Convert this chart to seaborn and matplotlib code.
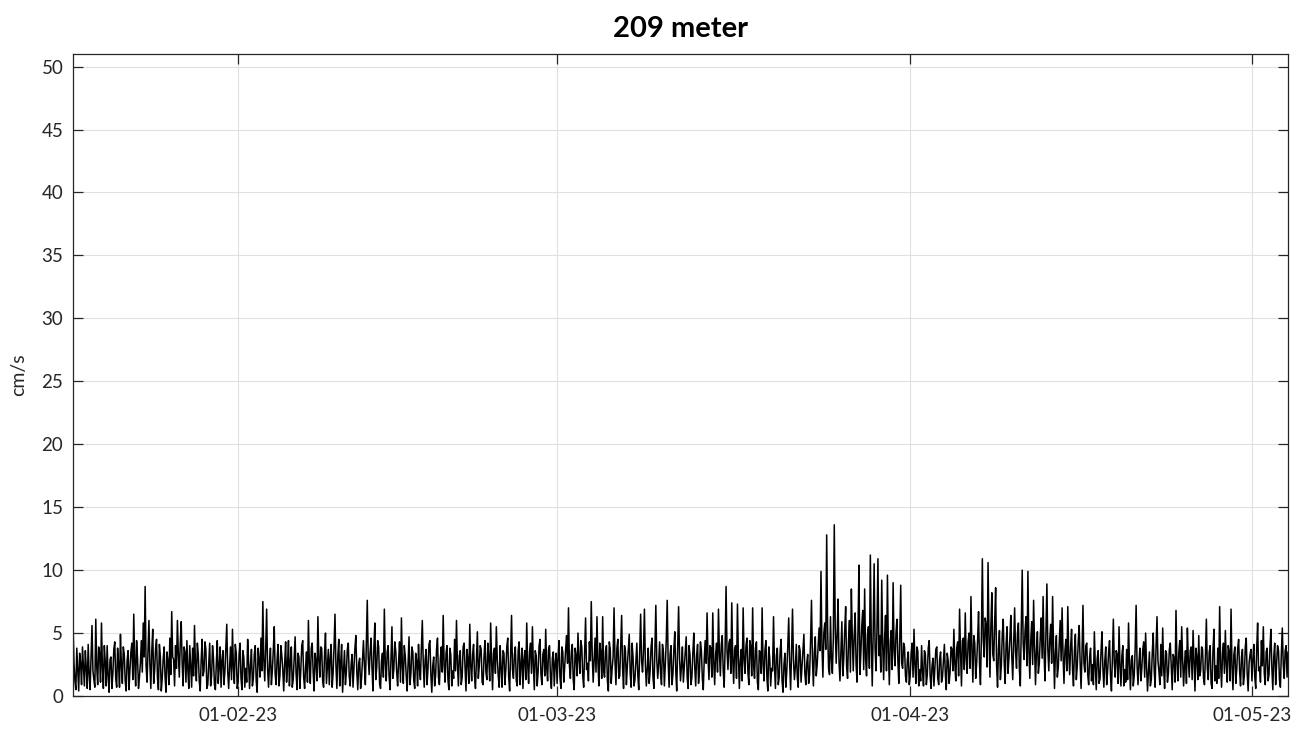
import numpy as np
import pandas as pd
import matplotlib
matplotlib.use("Agg")
import matplotlib.pyplot as plt
import matplotlib.dates as mdates
import seaborn as sns

# Current speed (cm/s) at 209 m, sampled every 2 hours from 17 Jan 2023 12:00.
# The *_a lists hold the readings on the 4-hour marks (12:00, 16:00, ...),
# the *_b lists the readings taken two hours after each of them.
start_time = "2023-01-17 12:00"
step = "2h"

speed_jan_a = [
    5.9, 1.2, 3.8, 0.4, 2.6, 3.9,
    0.8, 2.2, 4.1, 0.5, 5.6, 1.3,
    6.1, 0.9, 3.4, 5.8, 0.6, 2.7,
    4.0, 0.3, 3.1, 1.8, 4.3, 0.7,
    2.5, 4.9, 1.0, 3.3, 0.4, 3.6,
    2.1, 4.2, 6.5, 0.8, 3.0, 1.5,
    4.4, 5.8, 8.7, 1.1, 6.0, 0.6,
    5.3, 2.0, 4.5, 0.5, 3.2, 1.4,
    3.9, 0.3, 2.8, 4.6, 6.7, 2.9,
    4.0, 6.0, 1.5, 5.9, 0.8, 3.5,
    4.4, 0.6, 2.4, 3.8, 5.6, 1.2,
    3.3, 0.4, 4.5, 2.0, 3.7, 0.9,
    4.2, 1.6, 3.0, 0.5, 4.4, 2.3,
    0.7, 3.6, 1.9, 5.7, 0.6, 3.9,
    5.3, 1.0, 3.4,
]
speed_jan_b = [
    2.7, 0.5, 2.1, 3.4, 0.9, 2.4,
    3.6, 0.6, 1.8, 3.2, 2.0, 0.7,
    2.3, 3.9, 1.1, 2.2, 4.0, 0.8,
    1.6, 2.9, 0.6, 3.7, 1.4, 3.8,
    0.7, 2.4, 3.9, 1.2, 2.8, 0.5,
    3.5, 1.3, 2.7, 4.4, 0.6, 2.6,
    1.9, 3.1, 2.4, 3.7, 2.5, 3.6,
    1.0, 3.8, 1.4, 4.1, 0.4, 2.9,
    1.5, 3.5, 0.9, 1.7, 3.1, 0.8,
    2.2, 3.3, 4.2, 2.6, 3.9, 1.1,
    2.1, 4.0, 0.7, 1.6, 2.4, 4.2,
    1.2, 2.8, 1.6, 4.3, 0.6, 2.5,
    0.8, 4.0, 0.9, 2.6, 1.0, 3.9,
    2.8, 0.9, 3.8, 1.9, 2.4, 1.3,
    2.2, 4.1, 0.6,
]

speed_feb_a = [
    1.1, 4.2, 0.5, 3.0, 2.2, 4.5,
    0.6, 3.7, 1.4, 4.0, 0.3, 2.9,
    4.6, 7.5, 1.2, 6.9, 0.7, 3.8,
    2.0, 5.5, 0.9, 4.1, 1.6, 3.2,
    0.4, 4.3, 2.5, 0.8, 3.9, 1.3,
    4.7, 0.5, 3.1, 2.1, 4.4, 0.6,
    3.5, 6.0, 1.0, 4.2, 0.4, 2.7,
    6.3, 1.5, 3.8, 0.7, 5.0, 2.4,
    0.9, 4.1, 1.8, 6.5, 0.6, 4.5,
    2.6, 0.3, 3.6, 1.9, 4.2, 0.8,
    3.3, 2.2, 4.8, 0.5, 3.0, 1.4,
    4.4, 0.9, 7.6, 1.7, 4.6, 0.4,
    5.8, 2.3, 3.9, 0.6, 3.4, 6.9,
    1.2, 4.0, 0.5, 5.5, 2.1, 3.6,
    0.8, 4.3, 6.2, 1.0, 3.2, 0.4,
    4.7, 1.8, 3.5, 0.6, 2.8, 4.1,
    1.3, 6.0, 0.7, 3.7, 2.2, 4.4,
    0.3, 3.1, 1.6, 4.6, 0.9, 3.9,
    6.4, 1.1, 4.0, 0.5, 3.3, 2.0,
    4.5, 6.0, 0.8, 3.6, 1.5, 4.2,
    0.4, 2.9, 5.7, 1.2, 4.1, 0.6,
    5.1, 2.4, 3.7, 0.9, 4.4, 1.3,
    3.0, 5.8, 0.5, 3.8, 5.5, 1.6,
    4.0, 0.7, 3.4, 2.1, 4.6, 0.4,
    6.4, 1.4, 3.9, 0.8, 4.3, 2.5,
    0.6, 3.6, 5.8, 1.0, 4.2, 5.5,
    0.5, 3.2, 1.9, 4.5, 0.9, 3.7,
    5.3, 1.2, 4.0, 0.6, 3.5, 2.6,
]
speed_feb_b = [
    3.3, 1.4, 3.6, 0.7, 1.1, 2.7,
    2.4, 0.8, 3.3, 1.2, 3.8, 1.5,
    2.0, 2.9, 3.7, 2.2, 2.6, 0.9,
    3.6, 1.7, 2.9, 0.8, 4.0, 2.1,
    2.6, 1.1, 4.4, 2.7, 0.7, 3.1,
    1.8, 3.4, 0.6, 4.0, 1.5, 2.3,
    1.1, 2.5, 3.8, 1.9, 3.4, 1.2,
    2.8, 3.9, 1.2, 3.3, 1.0, 3.7,
    3.0, 0.7, 3.9, 2.4, 3.2, 0.8,
    4.1, 2.0, 0.9, 3.7, 1.6, 2.5,
    0.7, 3.8, 1.9, 2.6, 0.6, 2.9,
    2.4, 4.0, 3.1, 3.5, 2.2, 3.9,
    1.3, 4.4, 1.0, 2.8, 1.5, 2.6,
    3.5, 1.6, 3.0, 1.4, 4.3, 1.9,
    2.7, 1.1, 2.3, 4.0, 1.7, 2.6,
    0.9, 3.9, 1.2, 3.4, 0.8, 2.2,
    3.8, 2.6, 2.9, 0.9, 4.1, 1.7,
    2.4, 0.8, 3.7, 1.5, 3.0, 1.9,
    2.5, 3.4, 1.3, 3.8, 0.8, 1.4,
    2.0, 2.6, 3.2, 0.9, 3.9, 2.3,
    3.7, 1.0, 2.4, 3.3, 1.6, 2.8,
    1.4, 4.0, 1.1, 3.1, 1.9, 4.2,
    1.2, 2.7, 3.4, 1.8, 2.9, 0.7,
    2.2, 3.6, 0.9, 3.9, 1.5, 3.2,
    2.1, 3.3, 1.2, 3.6, 0.9, 3.8,
    2.9, 1.3, 2.5, 3.5, 1.8, 2.4,
    3.6, 0.8, 4.0, 1.7, 3.3, 1.6,
    2.3, 3.7, 1.5, 3.0, 0.8, 3.4,
]

speed_mar_a = [
    1.0, 4.4, 0.6, 3.5, 2.3, 4.8,
    7.0, 1.4, 4.1, 0.5, 3.2, 5.0,
    1.8, 3.9, 0.7, 6.2, 2.6, 4.3,
    7.5, 1.1, 4.6, 6.3, 0.8, 3.4,
    6.3, 1.5, 4.0, 0.4, 3.7, 2.2,
    7.0, 0.9, 4.5, 1.6, 6.4, 0.6,
    3.6, 2.4, 4.9, 0.7, 3.1, 1.3,
    4.2, 0.5, 6.5, 1.9, 6.9, 0.8,
    3.8, 2.0, 4.6, 0.6, 7.2, 1.4,
    4.3, 0.9, 3.5, 2.5, 7.6, 0.7,
    4.0, 1.7, 5.1, 0.4, 7.1, 1.2,
    3.9, 2.3, 4.7, 0.6, 3.3, 1.5,
    5.0, 0.8, 4.1, 2.0, 3.6, 0.5,
    4.4, 6.6, 1.3, 3.8, 6.6, 0.9,
    4.2, 6.9, 1.6, 4.8, 0.7, 8.7,
    2.1, 4.5, 7.4, 1.0, 4.0, 7.3,
    0.6, 3.7, 7.0, 1.8, 4.6, 0.9,
    3.9, 7.0, 1.4, 4.3, 0.5, 3.5,
    7.0, 1.2, 4.4, 0.4, 3.0, 2.2,
    6.3, 0.6, 3.8, 1.5, 4.5, 0.3,
    3.4, 2.0, 6.2, 0.5, 6.9, 1.3,
    4.1, 0.7, 3.6, 2.4, 4.9, 0.9,
    3.3, 1.7, 7.6, 0.8, 4.7, 2.5,
    5.4, 9.9, 1.5, 5.8, 12.8, 2.2,
    6.3, 1.8, 13.6, 2.6, 7.7, 1.2,
    5.9, 3.0, 7.1, 1.4, 6.0, 8.5,
    2.0, 6.6, 1.1, 10.4, 3.4, 6.8,
    8.5, 1.6, 5.5, 11.2, 0.8, 10.5,
    2.0, 10.9, 4.8, 9.2, 1.3, 6.4,
    9.6, 0.9, 5.2, 9.0, 2.4, 6.1,
    1.0, 8.8, 2.2, 3.9, 1.1, 3.5,
]
speed_mar_b = [
    3.1, 1.5, 3.9, 1.1, 3.7, 2.6,
    2.4, 3.5, 1.3, 3.8, 1.6, 2.9,
    4.4, 1.6, 3.6, 2.1, 1.2, 2.8,
    3.3, 2.9, 1.9, 2.7, 4.2, 1.4,
    2.0, 3.6, 1.2, 4.3, 1.0, 3.1,
    2.7, 3.8, 1.4, 3.9, 2.2, 4.0,
    0.9, 3.7, 1.8, 4.2, 0.8, 2.7,
    1.7, 3.4, 2.8, 3.6, 2.5, 2.2,
    1.0, 3.9, 1.5, 3.5, 2.9, 2.6,
    1.8, 4.1, 0.8, 4.4, 2.7, 3.3,
    0.9, 3.7, 2.0, 3.9, 3.0, 2.4,
    1.1, 3.6, 1.5, 4.0, 0.9, 3.4,
    2.3, 3.2, 1.0, 4.3, 1.4, 2.9,
    2.6, 3.0, 4.0, 1.5, 2.8, 3.3,
    1.9, 3.4, 4.1, 2.0, 3.8, 3.6,
    4.2, 1.8, 3.0, 3.7, 1.4, 3.1,
    2.8, 1.2, 2.9, 4.0, 1.9, 4.4,
    1.6, 2.4, 3.8, 1.1, 3.6, 1.8,
    2.5, 3.7, 1.5, 3.9, 0.8, 2.0,
    2.4, 3.2, 0.9, 3.6, 1.2, 2.5,
    0.7, 3.9, 2.6, 3.4, 2.9, 2.3,
    1.5, 4.0, 1.1, 3.7, 1.8, 2.6,
    1.0, 4.3, 2.9, 3.5, 1.6, 3.9,
    3.6, 4.1, 5.0, 3.7, 5.2, 1.7,
    2.9, 4.6, 5.5, 4.8, 2.7, 3.5,
    1.6, 5.2, 2.3, 4.4, 1.9, 4.7,
    4.8, 2.5, 5.3, 1.7, 5.6, 2.1,
    3.0, 4.9, 2.2, 4.3, 5.1, 3.8,
    5.4, 3.2, 1.9, 4.1, 4.6, 2.0,
    3.5, 4.3, 2.1, 3.6, 5.0, 2.8,
    4.5, 2.6, 4.2, 1.6, 2.9, 0.9,
]

speed_apr_a = [
    1.6, 4.2, 5.3, 1.0, 3.6, 2.1,
    4.0, 0.8, 3.3, 1.7, 4.4, 0.6,
    3.0, 2.2, 3.9, 0.9, 3.5, 1.5,
    4.1, 0.5, 2.8, 1.9, 3.7, 5.3,
    1.2, 4.3, 6.9, 0.8, 4.6, 6.6,
    1.8, 5.0, 7.9, 1.1, 4.2, 2.6,
    6.7, 0.9, 10.9, 3.1, 5.6, 10.6,
    1.5, 8.2, 2.8, 8.6, 0.7, 5.2,
    2.4, 6.1, 1.0, 5.5, 3.0, 6.4,
    1.3, 7.0, 2.2, 5.8, 0.8, 10.0,
    2.9, 6.3, 9.9, 1.4, 5.9, 7.6,
    0.9, 5.1, 2.6, 6.2, 7.9, 1.2,
    8.9, 2.0, 5.7, 7.9, 0.6, 4.8,
    2.3, 6.0, 7.0, 1.0, 4.5, 7.1,
    1.7, 5.3, 0.8, 4.9, 2.4, 5.6,
    0.6, 7.2, 1.9, 4.2, 0.9, 3.8,
    2.5, 5.1, 0.5, 3.6, 1.4, 5.1,
    0.7, 3.9, 2.0, 4.4, 0.4, 6.1,
    1.5, 3.3, 5.5, 0.8, 4.0, 2.1,
    3.7, 5.8, 0.5, 3.2, 1.6, 7.2,
    0.9, 3.8, 2.2, 4.3, 5.0, 0.4,
    3.5, 1.3, 5.0, 0.7, 6.3, 2.0,
    4.1, 5.4, 0.6, 3.4, 1.8, 4.2,
    0.5, 3.0, 6.8, 1.2, 4.4, 5.5,
    0.8, 3.6, 5.4, 1.5, 3.9, 5.2,
    0.4, 3.1, 4.8, 2.0, 3.7, 0.9,
    6.1, 1.3, 4.0, 0.6, 5.3, 2.4,
    3.8, 7.1, 0.7, 4.2, 5.2, 1.1,
    3.5, 6.9, 0.5, 3.9, 2.1, 4.5,
    0.8, 3.7, 1.6, 4.6, 0.4, 3.3,
]
speed_apr_b = [
    3.4, 1.5, 2.4, 3.9, 0.8, 1.2,
    1.9, 3.6, 0.9, 3.8, 1.6, 2.4,
    0.8, 3.7, 1.4, 2.9, 1.1, 2.8,
    1.7, 3.4, 1.0, 3.9, 2.0, 2.6,
    3.8, 1.6, 3.5, 4.4, 2.1, 3.0,
    4.3, 2.2, 3.7, 4.8, 1.4, 4.5,
    2.6, 4.7, 4.4, 6.2, 2.3, 4.9,
    5.6, 3.3, 5.9, 2.5, 3.8, 1.3,
    4.9, 2.7, 4.1, 1.8, 4.6, 3.2,
    4.0, 3.5, 5.0, 2.1, 5.4, 4.2,
    5.2, 2.4, 3.8, 4.4, 2.5, 3.9,
    3.6, 1.8, 4.7, 3.0, 3.4, 5.1,
    3.7, 4.5, 2.6, 3.8, 3.5, 1.5,
    4.2, 2.8, 3.3, 3.6, 2.0, 3.4,
    3.9, 2.1, 3.6, 1.3, 4.3, 2.7,
    3.4, 2.6, 4.0, 1.7, 3.1, 1.2,
    0.9, 2.3, 3.0, 1.0, 3.5, 2.2,
    2.8, 0.9, 3.5, 1.6, 3.0, 2.6,
    3.6, 1.0, 2.4, 3.2, 0.8, 1.1,
    1.3, 2.5, 2.9, 0.8, 3.8, 2.4,
    2.7, 1.2, 3.7, 1.5, 2.3, 1.9,
    0.8, 3.4, 2.1, 3.9, 2.8, 0.9,
    1.6, 2.2, 3.6, 1.1, 3.7, 2.4,
    3.3, 1.1, 2.6, 3.5, 1.5, 2.9,
    2.5, 1.0, 2.8, 3.6, 1.3, 2.7,
    3.8, 1.3, 1.6, 3.9, 1.4, 3.2,
    2.2, 3.5, 1.0, 3.7, 1.2, 1.0,
    1.4, 2.6, 3.4, 1.8, 2.5, 4.0,
    1.2, 2.3, 3.3, 1.0, 3.8, 2.0,
    3.1, 0.9, 3.9, 1.8, 2.6, 3.7,
]

speed_may_a = [
    1.2, 4.1, 0.6, 5.8, 2.3, 4.4,
    5.5, 0.9, 3.8, 1.7, 5.3, 0.5,
    4.2, 2.6, 3.6, 0.7, 5.4, 1.4,
    4.0, 3.5,
]
speed_may_b = [
    2.9, 1.5, 3.7, 2.0, 1.1, 2.4,
    1.8, 3.5, 1.2, 3.9, 2.2, 3.1,
    0.9, 4.0, 1.3, 3.4, 2.5, 3.6,
    1.5,
]

title_text = "209 meter"
y_label = "cm/s"
y_ticks = list(range(0, 51, 5))
y_max = 51

marks_a = speed_jan_a + speed_feb_a + speed_mar_a + speed_apr_a + speed_may_a
marks_b = speed_jan_b + speed_feb_b + speed_mar_b + speed_apr_b + speed_may_b
speed = np.empty(len(marks_a) + len(marks_b))
speed[0::2] = marks_a
speed[1::2] = marks_b
times = pd.date_range(start_time, periods=len(speed), freq=step)
df = pd.DataFrame({"time": times, "speed": speed})

sns.set_theme(style="white")
plt.rcParams["font.family"] = ["Lato", "DejaVu Sans"]

ink = "#262626"
fig = plt.figure(figsize=(13.06, 7.31), dpi=100)
ax = fig.add_axes([73 / 1306, 1 - 696 / 731, (1288 - 73) / 1306, (696 - 54) / 731])

sns.lineplot(data=df, x="time", y="speed", ax=ax, color="black",
             linewidth=1.1, estimator=None, errorbar=None, sort=False)

ax.set_xlim(times[0], times[-1])
ax.set_ylim(0, y_max)
ax.set_yticks(y_ticks)
ax.xaxis.set_major_locator(mdates.MonthLocator())
ax.xaxis.set_major_formatter(mdates.DateFormatter("%d-%m-%y"))

ax.grid(True, color="#e0e0e0", linewidth=0.8)
ax.set_axisbelow(True)
for side in ax.spines.values():
    side.set_visible(True)
    side.set_color(ink)
    side.set_linewidth(0.9)

ax.tick_params(axis="both", which="major", direction="in", length=7, width=0.9,
               color=ink, labelcolor=ink, labelsize=13.5,
               top=True, right=True, bottom=True, left=True)
ax.tick_params(axis="x", pad=8)
ax.tick_params(axis="y", pad=7)

ax.set_xlabel("")
ax.set_ylabel(y_label, fontsize=14, color=ink, labelpad=10)
ax.set_title(title_text, fontsize=21, fontweight="bold", color="black", pad=12)

fig.savefig("out.png", dpi=100)
